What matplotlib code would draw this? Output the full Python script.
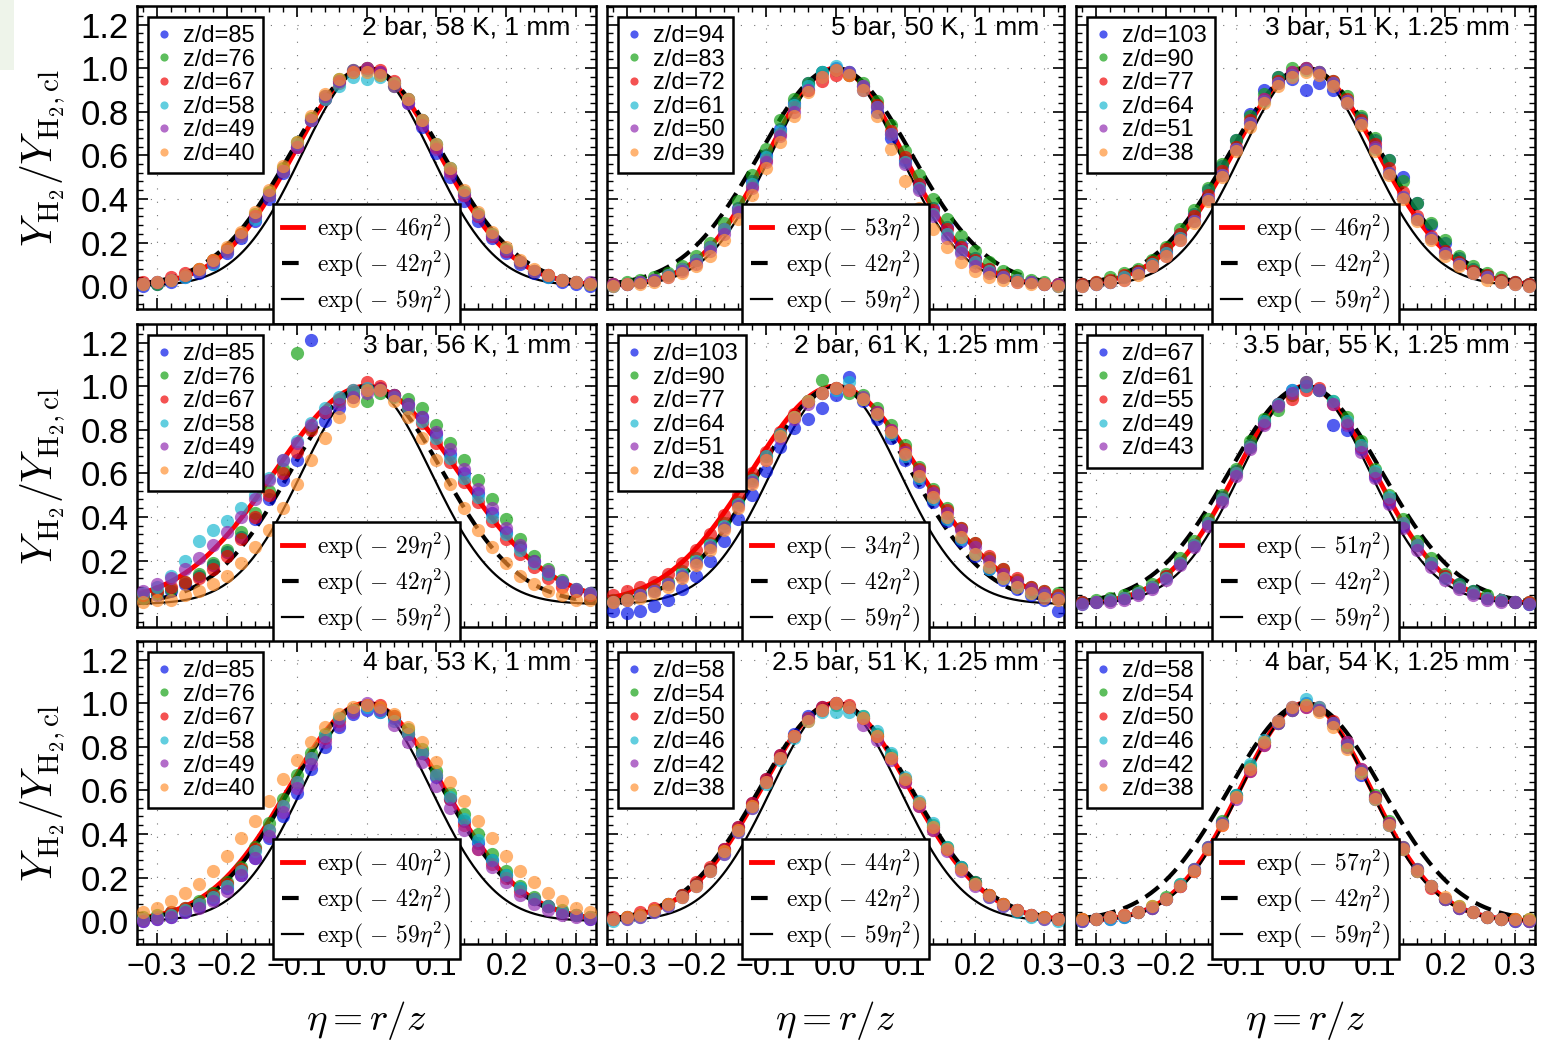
import matplotlib
matplotlib.use('Agg')
import matplotlib.pyplot as plt
from matplotlib.ticker import MultipleLocator, AutoMinorLocator
from matplotlib.patches import Rectangle
import numpy as np

plt.rcParams['font.family'] = ['Liberation Sans', 'DejaVu Sans']
plt.rcParams['mathtext.fontset'] = 'cm'

# radial coordinate eta = r/z shared by all profiles
eta = [-.32, -.30, -.28, -.26, -.24, -.22, -.20, -.18, -.16, -.14, -.12, -.10, -.08, -.06, -.04, -.02,
       0.0, .02, .04, .06, .08, .10, .12, .14, .16, .18, .20, .22, .24, .26, .28, .30, .32]

titles = ['2 bar, 58 K, 1 mm', '5 bar, 50 K, 1 mm', '3 bar, 51 K, 1.25 mm',
          '3 bar, 56 K, 1 mm', '2 bar, 61 K, 1.25 mm', '3.5 bar, 55 K, 1.25 mm',
          '4 bar, 53 K, 1 mm', '2.5 bar, 51 K, 1.25 mm', '4 bar, 54 K, 1.25 mm']
fit_a = [46, 53, 46, 29, 34, 51, 40, 44, 57]
ref_a = [42, 59]
zd = [[85, 76, 67, 58, 49, 40], [94, 83, 72, 61, 50, 39], [103, 90, 77, 64, 51, 38],
      [85, 76, 67, 58, 49, 40], [103, 90, 77, 64, 51, 38], [67, 61, 55, 49, 43],
      [85, 76, 67, 58, 49, 40], [58, 54, 50, 46, 42, 38], [58, 54, 50, 46, 42, 38]]

# normalised H2 mass fraction, one list per z/d
y_2bar_58K = [
    [.00,.01,.02,.04,.06,.10,.15,.22,.30,.40,.52,.64,.76,.86,.94,.98,.99,.98,.93,.84,.73,.61,.50,.39,.30,.22,.15,.10,.06,.04,.02,.01,.00],
    [.01,.01,.03,.05,.08,.12,.17,.24,.33,.43,.54,.66,.77,.87,.95,.99,1.00,.97,.92,.86,.76,.65,.54,.43,.33,.24,.17,.11,.07,.05,.03,.02,.01],
    [.02,.02,.04,.06,.08,.12,.17,.24,.32,.42,.53,.64,.76,.86,.93,.98,1.00,.99,.94,.86,.76,.64,.53,.42,.32,.23,.16,.11,.07,.05,.03,.02,.01],
    [.01,.02,.03,.04,.07,.10,.16,.23,.31,.42,.53,.65,.76,.86,.92,.96,.95,.96,.93,.86,.76,.65,.54,.43,.33,.24,.17,.11,.07,.04,.03,.02,.01],
    [.01,.02,.03,.05,.07,.11,.16,.23,.32,.42,.53,.64,.76,.87,.94,.99,1.00,.98,.92,.84,.74,.63,.52,.42,.32,.23,.16,.11,.07,.05,.03,.02,.02],
    [.01,.02,.03,.05,.08,.12,.18,.25,.34,.44,.55,.66,.78,.88,.95,.98,.98,.97,.93,.86,.76,.65,.54,.44,.34,.25,.18,.12,.08,.05,.03,.02,.01]]
y_5bar_50K = [
    [.00,.01,.02,.03,.05,.08,.12,.18,.26,.36,.48,.60,.72,.84,.93,.98,1.00,.98,.90,.80,.68,.58,.47,.36,.27,.19,.13,.08,.05,.03,.02,.01,.00],
    [.01,.02,.03,.04,.06,.09,.14,.20,.29,.39,.51,.63,.76,.86,.93,.98,.99,.97,.93,.85,.74,.62,.51,.40,.31,.23,.16,.11,.07,.05,.03,.02,.01],
    [.01,.01,.02,.03,.05,.08,.12,.18,.26,.35,.46,.58,.70,.82,.90,.94,.97,.97,.92,.83,.71,.59,.47,.35,.26,.18,.12,.08,.05,.03,.02,.01,.01],
    [.00,.01,.02,.03,.05,.08,.12,.18,.26,.35,.47,.59,.71,.83,.92,.98,1.01,.98,.92,.82,.70,.57,.45,.33,.24,.16,.11,.07,.04,.03,.02,.01,.00],
    [.01,.01,.02,.03,.04,.07,.10,.16,.24,.34,.45,.57,.69,.80,.90,.96,.99,.98,.92,.82,.70,.56,.44,.32,.22,.15,.09,.06,.04,.02,.02,.01,.01],
    [.00,.01,.01,.02,.04,.06,.09,.14,.21,.31,.42,.54,.66,.78,.89,.96,.99,.97,.90,.78,.63,.48,.36,.26,.18,.11,.07,.04,.03,.02,.01,.01,.00]]
y_3bar_51K = [
    [.01,.01,.02,.04,.07,.10,.16,.24,.33,.44,.55,.67,.79,.90,.96,.95,.90,.93,.90,.84,.77,.67,.58,.50,.38,.28,.20,.13,.08,.05,.03,.02,.01],
    [.01,.02,.04,.06,.08,.12,.18,.26,.35,.45,.56,.67,.78,.88,.96,1.00,1.00,.98,.94,.87,.78,.68,.58,.48,.38,.29,.21,.14,.09,.06,.04,.02,.01],
    [.01,.02,.03,.05,.07,.11,.17,.24,.32,.42,.53,.64,.76,.86,.94,.98,1.00,.98,.94,.86,.76,.65,.54,.43,.32,.23,.16,.11,.07,.05,.03,.02,.01],
    [.00,.01,.02,.04,.06,.10,.15,.22,.30,.40,.51,.63,.75,.85,.93,.97,.99,.98,.93,.85,.75,.63,.52,.41,.31,.22,.15,.10,.06,.04,.02,.01,.00],
    [.00,.01,.02,.03,.06,.09,.14,.21,.30,.40,.51,.63,.75,.86,.93,.98,1.00,.98,.93,.85,.75,.64,.52,.41,.31,.22,.15,.10,.06,.04,.02,.01,.00],
    [.00,.01,.02,.03,.05,.09,.14,.21,.29,.39,.50,.62,.73,.84,.92,.96,.98,.97,.92,.84,.74,.62,.51,.40,.30,.21,.14,.09,.06,.03,.02,.01,.00]]
y_3bar_56K = [
    [.03,.04,.06,.09,.13,.18,.24,.31,.39,.48,.57,.66,1.21,.84,.90,.95,.98,.99,.96,.92,.86,.78,.69,.60,.51,.42,.33,.26,.20,.14,.10,.06,.04],
    [.03,.05,.07,.10,.14,.19,.25,.33,.42,.52,.62,1.15,.81,.88,.93,.97,.93,.97,.96,.94,.90,.82,.74,.66,.57,.48,.39,.30,.22,.16,.11,.07,.05],
    [.04,.06,.08,.10,.12,.16,.22,.30,.40,.50,.60,.70,.80,.88,.94,.98,1.02,1.00,.96,.90,.83,.74,.65,.56,.47,.38,.30,.23,.17,.12,.08,.06,.04],
    [.05,.08,.13,.20,.29,.34,.38,.44,.50,.58,.66,.75,.83,.90,.95,.98,.99,.98,.95,.90,.84,.76,.67,.58,.49,.40,.32,.25,.19,.14,.10,.07,.05],
    [.06,.09,.12,.16,.21,.27,.33,.40,.48,.57,.66,.74,.82,.88,.92,.95,.97,.98,.96,.92,.86,.79,.71,.62,.53,.44,.35,.27,.20,.15,.10,.07,.05],
    [.01,.02,.02,.04,.06,.09,.13,.19,.26,.34,.44,.55,.66,.76,.86,.93,.98,.98,.93,.86,.76,.66,.55,.44,.34,.26,.19,.13,.09,.06,.04,.02,.02]]
y_2bar_61K = [
    [-.03,-.04,-.03,-.01,.02,.07,.13,.20,.29,.39,.50,.61,.72,.81,.85,.90,.96,1.04,.93,.85,.76,.66,.56,.47,.38,.29,.22,.16,.11,.07,.04,.02,-.03],
    [.02,.03,.05,.07,.10,.15,.21,.28,.37,.47,.58,.68,.78,.86,.93,1.03,.99,.97,.96,.90,.82,.73,.63,.53,.44,.35,.28,.21,.16,.11,.08,.06,.05],
    [.04,.06,.08,.10,.14,.19,.25,.32,.41,.50,.60,.70,.79,.87,.93,.97,.99,.98,.94,.88,.80,.71,.62,.52,.43,.35,.28,.22,.16,.12,.08,.06,.04],
    [.01,.02,.04,.06,.09,.14,.20,.27,.36,.46,.57,.68,.78,.86,.93,.97,.98,1.02,.94,.87,.78,.68,.58,.48,.39,.30,.23,.16,.12,.08,.05,.04,.03],
    [.01,.02,.04,.06,.09,.13,.19,.26,.35,.45,.56,.66,.76,.85,.92,.97,.99,.98,.95,.88,.80,.70,.61,.51,.42,.34,.26,.20,.14,.10,.07,.05,.03],
    [.01,.02,.03,.05,.08,.12,.18,.25,.34,.44,.55,.66,.77,.86,.93,.97,.99,.98,.94,.87,.79,.69,.59,.49,.40,.31,.23,.17,.12,.08,.05,.03,.02]]
y_3p5bar_55K = [
    [.01,.01,.02,.03,.05,.08,.13,.19,.27,.37,.49,.61,.73,.83,.92,.98,1.00,.98,.82,.80,.71,.59,.47,.36,.27,.19,.13,.09,.06,.03,.02,.01,.00],
    [.01,.02,.03,.04,.06,.09,.14,.21,.29,.39,.50,.62,.75,.85,.89,.96,1.02,.98,.93,.86,.75,.62,.50,.39,.29,.21,.14,.09,.06,.04,.02,.01,.01],
    [.01,.01,.02,.03,.05,.08,.13,.19,.27,.37,.48,.60,.72,.83,.92,.94,.98,.99,.92,.83,.72,.60,.48,.37,.27,.19,.13,.08,.05,.03,.02,.01,.01],
    [.00,.01,.02,.03,.05,.08,.12,.19,.27,.37,.48,.60,.72,.84,.92,.98,1.00,.98,.93,.84,.73,.61,.49,.37,.27,.19,.12,.08,.05,.03,.02,.01,.00],
    [.00,.01,.01,.02,.04,.07,.11,.18,.26,.36,.47,.59,.71,.82,.91,.97,1.02,.98,.92,.82,.70,.58,.46,.35,.25,.17,.11,.07,.04,.02,.01,.01,.00]]
y_4bar_53K = [
    [.00,.01,.02,.04,.07,.10,.15,.21,.29,.38,.48,.59,.70,.80,.89,.95,.97,.96,.93,.86,.77,.66,.56,.46,.36,.28,.21,.15,.10,.07,.04,.03,.01],
    [.02,.03,.04,.06,.09,.13,.18,.25,.34,.45,.56,.67,.77,.86,.93,.97,.99,.98,.94,.88,.79,.69,.59,.49,.40,.31,.23,.16,.11,.07,.05,.03,.02],
    [.01,.02,.04,.06,.08,.12,.17,.24,.33,.42,.53,.64,.75,.84,.92,.97,.99,.99,.94,.86,.77,.67,.56,.44,.33,.26,.20,.14,.10,.07,.04,.03,.02],
    [.01,.02,.03,.05,.08,.11,.16,.23,.32,.42,.53,.64,.75,.85,.93,.97,.98,.96,.92,.86,.77,.67,.57,.47,.37,.28,.21,.15,.10,.07,.04,.03,.02],
    [.00,.01,.02,.04,.06,.09,.14,.21,.29,.39,.50,.61,.72,.82,.90,.96,1.00,.97,.90,.82,.73,.62,.52,.42,.33,.25,.18,.12,.08,.05,.03,.02,.01],
    [.04,.06,.09,.13,.17,.23,.30,.38,.46,.55,.65,.74,.82,.89,.95,.98,.99,.98,.95,.89,.82,.73,.64,.55,.46,.38,.30,.23,.18,.13,.09,.06,.04]]
y_2p5bar_51K = [
    [.01,.02,.03,.05,.08,.12,.17,.24,.33,.43,.54,.65,.76,.86,.94,.98,1.00,.98,.93,.85,.75,.65,.54,.43,.33,.25,.18,.12,.08,.05,.03,.02,.01],
    [.01,.02,.03,.05,.08,.12,.17,.24,.32,.42,.53,.64,.75,.85,.93,.97,.99,.98,.94,.86,.76,.65,.54,.44,.34,.25,.18,.12,.08,.05,.03,.02,.01],
    [.02,.02,.04,.06,.08,.12,.18,.25,.33,.43,.54,.65,.76,.85,.93,.98,1.00,.99,.93,.85,.75,.64,.53,.42,.33,.24,.17,.12,.08,.05,.03,.02,.01],
    [.00,.01,.02,.04,.07,.11,.16,.23,.31,.41,.52,.63,.74,.84,.92,.96,.96,.96,.94,.87,.77,.66,.55,.45,.34,.25,.17,.11,.07,.04,.02,.01,.00],
    [.01,.01,.02,.04,.07,.11,.16,.23,.31,.41,.52,.64,.75,.85,.93,.97,1.00,.98,.90,.83,.74,.64,.53,.42,.32,.23,.16,.11,.07,.05,.03,.01,.01],
    [.01,.02,.03,.05,.08,.11,.16,.23,.32,.42,.53,.64,.75,.85,.92,.97,1.00,.98,.93,.85,.75,.65,.54,.43,.33,.24,.17,.12,.08,.05,.03,.02,.01]]
y_4bar_54K = [
    [.00,.01,.01,.02,.04,.06,.10,.16,.23,.33,.45,.58,.70,.82,.92,.98,1.00,.97,.91,.80,.67,.56,.44,.33,.23,.16,.10,.06,.04,.02,.01,.00,.00],
    [.01,.01,.02,.03,.04,.07,.11,.17,.24,.34,.46,.58,.71,.82,.91,.97,.99,.97,.91,.81,.69,.58,.46,.34,.24,.16,.10,.07,.04,.02,.01,.01,.01],
    [.01,.01,.02,.03,.04,.06,.10,.16,.23,.33,.44,.57,.69,.81,.91,.97,.98,.98,.92,.82,.70,.57,.45,.33,.23,.15,.10,.06,.04,.02,.01,.01,.00],
    [.00,.01,.01,.02,.04,.06,.10,.17,.24,.34,.45,.58,.72,.83,.91,.97,1.02,.98,.91,.81,.69,.56,.44,.33,.23,.16,.10,.06,.04,.02,.01,.00,.00],
    [.00,.01,.02,.03,.04,.06,.10,.16,.24,.34,.45,.56,.69,.81,.91,.97,.98,.97,.91,.82,.70,.57,.45,.34,.24,.16,.10,.06,.04,.02,.01,.00,.00],
    [.01,.01,.02,.03,.04,.07,.10,.16,.23,.33,.44,.57,.70,.82,.92,.98,.99,.96,.89,.79,.68,.56,.44,.33,.23,.16,.11,.07,.04,.02,.01,.01,.01]]

profiles = [y_2bar_58K, y_5bar_50K, y_3bar_51K, y_3bar_56K, y_2bar_61K,
            y_3p5bar_55K, y_4bar_53K, y_2p5bar_51K, y_4bar_54K]

colors = ['#0010e8', '#10a010', '#f00000', '#18b8d0', '#9028b0', '#ff9030']

fig = plt.figure(figsize=(15.42, 10.44), dpi=100)
W, H = 1542., 1044.
# pale strip left over at the top-left corner of the original
fig.add_artist(Rectangle((0, 1 - 70 / H), 14 / W, 70 / H, transform=fig.transFigure,
                         color='#eef4ea', lw=0))

col_x = [137, 607, 1076]
col_w = [459, 457, 459]
row_top = [6, 324, 641]
row_h = 303
eta_line = np.linspace(-0.33, 0.33, 400)

for k in range(9):
    r, c = divmod(k, 3)
    ax = fig.add_axes([col_x[c] / W, 1 - (row_top[r] + row_h) / H, col_w[c] / W, row_h / H])

    for j, (z, ys) in enumerate(zip(zd[k], profiles[k])):
        ax.plot(eta, ys, 'o', ms=9.5, color=colors[j], alpha=0.68, mec='none',
                label='z/d=%d' % z, zorder=3)

    l1, = ax.plot(eta_line, np.exp(-fit_a[k] * eta_line ** 2), color='red', lw=3.5, zorder=2)
    l2, = ax.plot(eta_line, np.exp(-ref_a[0] * eta_line ** 2), color='k', lw=3,
                  dashes=(4, 2), zorder=2)
    l3, = ax.plot(eta_line, np.exp(-ref_a[1] * eta_line ** 2), color='k', lw=1.6, zorder=2)

    leg1 = ax.legend(loc='upper left', fontsize=17, fancybox=False, edgecolor='k',
                     framealpha=1, markerscale=0.62, handlelength=0.7, handletextpad=0.45,
                     labelspacing=0.07, borderpad=0.35, borderaxespad=0.45)
    leg1.get_frame().set_linewidth(1.8)
    ax.add_artist(leg1)
    leg2 = ax.legend([l1, l2, l3],
                     [r'$\mathrm{exp}(\,-\,%d\eta^2)$' % a for a in [fit_a[k]] + ref_a],
                     loc='lower center', bbox_to_anchor=(0.5, -0.05), fontsize=17,
                     fancybox=False, edgecolor='k', framealpha=1, handlelength=0.9,
                     handletextpad=0.6, labelspacing=0.2, borderpad=0.35, borderaxespad=0)
    leg2.get_frame().set_linewidth(1.8)
    leg2.set_zorder(10)

    ax.text(0.945, 0.967, titles[k], transform=ax.transAxes, ha='right', va='top',
            fontsize=19, zorder=5)

    ax.set_xlim(-0.328, 0.328)
    ax.set_ylim(-0.105, 1.285)
    ax.xaxis.set_major_locator(MultipleLocator(0.1))
    ax.xaxis.set_minor_locator(AutoMinorLocator(5))
    ax.yaxis.set_major_locator(MultipleLocator(0.2))
    ax.yaxis.set_minor_locator(AutoMinorLocator(5))
    ax.tick_params(which='both', direction='in', top=True, right=True)
    ax.tick_params(axis='y', labelsize=25)
    ax.tick_params(axis='x', labelsize=22)
    ax.tick_params(which='major', length=8, width=1.2, pad=6)
    ax.tick_params(which='minor', length=4, width=1)
    ax.grid(True, which='major', ls=(0, (1, 11)), color='0.45', lw=0.8)
    for s in ax.spines.values():
        s.set_linewidth(1.8)

    if c == 0:
        ax.set_ylabel(r'$Y_{\mathrm{H_2}}/Y_{\mathrm{H_2,cl}}$', fontsize=30, labelpad=10)
    else:
        ax.tick_params(labelleft=False)
    if r == 2:
        ax.set_xlabel(r'$\eta = r/z$', fontsize=28, labelpad=12)
    else:
        ax.tick_params(labelbottom=False)

fig.savefig('out.png', dpi=100)
